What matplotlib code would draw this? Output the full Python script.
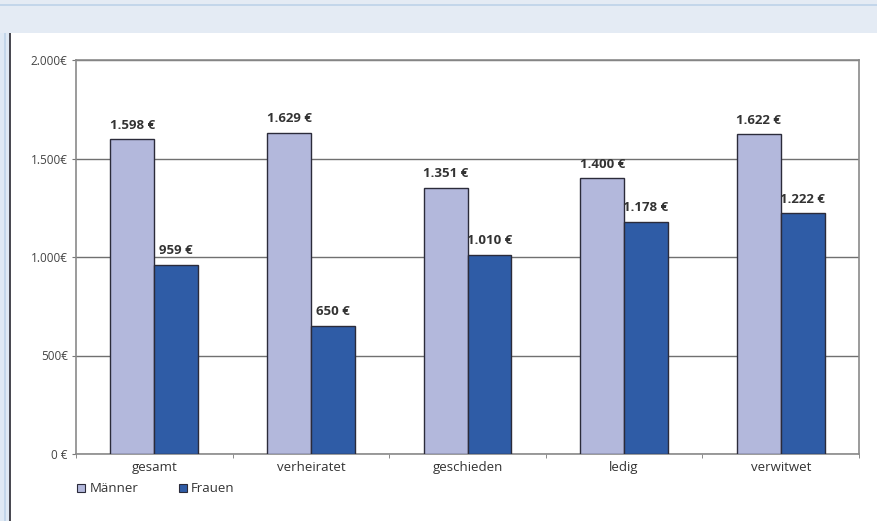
import matplotlib.pyplot as plt
from matplotlib.patches import Rectangle
from matplotlib.lines import Line2D
from matplotlib.ticker import FixedLocator

# Data
categories = ["gesamt", "verheiratet", "geschieden", "ledig", "verwitwet"]
maenner = [1598, 1629, 1351, 1400, 1622]
frauen = [959, 650, 1010, 1178, 1222]
series_names = ["Männer", "Frauen"]
y_ticks = [0, 500, 1000, 1500, 2000]
y_tick_labels = ["0 €", "500€", "1.000€", "1.500€", "2.000€"]

c_m = "#b3b8dc"
c_f = "#2f5ca6"
edge = "#2b2b3a"
text_c = "#333333"

plt.rcParams["font.family"] = ["Open Sans", "DejaVu Sans"]

fig = plt.figure(figsize=(8.77, 5.21), dpi=100)
W, H = 877, 521

def px(x0, y0, w, h, **kw):
    # rectangle in pixel coordinates (origin top-left)
    fig.patches.append(Rectangle((x0 / W, 1 - (y0 + h) / H), w / W, h / H,
                                 transform=fig.transFigure, linewidth=0, **kw))

# page frame
px(0, 0, W, 33, facecolor="#e4ebf4")
px(0, 4, W, 2, facecolor="#c3d6ea")
px(0, 33, 9, H - 33, facecolor="#dfe9f4")
px(4, 33, 1.5, H - 33, facecolor="#c3d6ea")
px(9, 33, 2, H - 33, facecolor="#4a4a52")

ax = fig.add_axes([76 / W, (521 - 454) / H, (859 - 76) / W, (454 - 60) / H])
x = list(range(len(categories)))
w = 0.28
bm = ax.bar([i - w / 2 for i in x], maenner, w, color=c_m, edgecolor=edge,
            linewidth=1.0, label=series_names[0], zorder=3)
bf = ax.bar([i + w / 2 for i in x], frauen, w, color=c_f, edgecolor=edge,
            linewidth=1.0, label=series_names[1], zorder=3)

def fmt(v):
    return f"{v:,}".replace(",", ".") + " €"

for bars, vals in ((bm, maenner), (bf, frauen)):
    for b, v in zip(bars, vals):
        ax.annotate(fmt(v), (b.get_x() + b.get_width() / 2, v), xytext=(0, 5.5),
                    textcoords="offset points", ha="center", va="bottom",
                    fontsize=9.5, fontweight="bold", color=text_c)

ax.set_xlim(-0.5, len(categories) - 0.5)
ax.set_ylim(0, 2000)
ax.set_yticks(y_ticks)
ax.set_yticklabels(y_tick_labels)
ax.set_xticks(x)
ax.set_xticklabels(categories)
ax.xaxis.set_minor_locator(FixedLocator([i + 0.5 for i in range(-1, len(categories))]))
ax.tick_params(axis="x", which="major", length=0, pad=5, labelsize=9.5, labelcolor=text_c)
ax.tick_params(axis="x", which="minor", length=3, color="#777777")
ax.tick_params(axis="y", length=3, color="#777777", labelsize=8.5, labelcolor="#444444", pad=3)
ax.grid(axis="y", color="#707070", linewidth=1.0, zorder=0)
for s in ax.spines.values():
    s.set_color("#8a8a8a")
    s.set_linewidth(1.2)

handles = [Line2D([], [], marker="s", linestyle="", markersize=6,
                  markerfacecolor=c, markeredgecolor=edge, markeredgewidth=0.8)
           for c in (c_m, c_f)]
fig.legend(handles, series_names, loc="center left", bbox_to_anchor=(63 / W, 1 - 489 / H),
           ncol=2, frameon=False, fontsize=9.5, handletextpad=0.1, columnspacing=2.9,
           handlelength=1.0, labelcolor=text_c)

fig.savefig("out.png", dpi=100)
